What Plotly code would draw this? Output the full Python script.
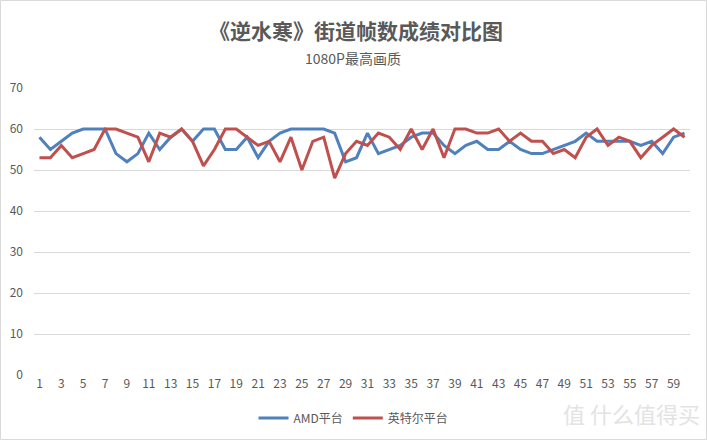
import plotly.graph_objects as go

x_vals = list(range(1, 61))
tick_labels = [str(i) for i in range(1, 61, 2)]
amd = [58, 55, 57, 59, 60, 60, 60, 54, 52, 54,
       59, 55, 58, 60, 57, 60, 60, 55, 55, 58,
       53, 57, 59, 60, 60, 60, 60, 59, 52, 53,
       59, 54, 55, 56, 58, 59, 59, 56, 54, 56,
       57, 55, 55, 57, 55, 54, 54, 55, 56, 57,
       59, 57, 57, 57, 57, 56, 57, 54, 58, 59]
intel = [53, 53, 56, 53, 54, 55, 60, 60, 59, 58,
         52, 59, 58, 60, 57, 51, 55, 60, 60, 58,
         56, 57, 52, 58, 50, 57, 58, 48, 54, 57,
         56, 59, 58, 55, 60, 55, 60, 53, 60, 60,
         59, 59, 60, 57, 59, 57, 57, 54, 55, 53,
         58, 60, 56, 58, 57, 53, 56, 58, 60, 58]

FONT = "Noto Sans CJK SC"
TXT = "#595959"

fig = go.Figure()
fig.add_trace(go.Scatter(x=x_vals, y=amd, mode="lines", name="AMD平台",
                         line=dict(color="#4F81BD", width=3)))
fig.add_trace(go.Scatter(x=x_vals, y=intel, mode="lines", name="英特尔平台",
                         line=dict(color="#C0504D", width=3)))

L, R, T, B = 34, 17, 88, 65
W, H = 707, 440
pw, ph = W - L - R, H - T - B

fig.update_layout(
    width=W, height=H,
    margin=dict(l=L, r=R, t=T, b=B, autoexpand=False),
    paper_bgcolor="white", plot_bgcolor="white",
    font=dict(family=FONT, color=TXT, size=12),
    showlegend=True,
    legend=dict(orientation="h", xref="container", yref="container",
                x=0.5, xanchor="center", y=(H - 418) / H, yanchor="middle",
                font=dict(size=12, color=TXT), itemwidth=30),
    xaxis=dict(range=[0.5, 60.5], tickmode="array",
               tickvals=list(range(1, 61, 2)), ticktext=tick_labels,
               showgrid=False, zeroline=False, showline=False, ticks="",
               tickfont=dict(size=12, color=TXT), automargin=False),
    yaxis=dict(range=[0, 70], dtick=10, showgrid=True, gridcolor="#D9D9D9",
               gridwidth=1, zeroline=False, showline=False, ticks="",
               tickfont=dict(size=12, color=TXT), ticklabelstandoff=10,
               automargin=False),
    annotations=[
        dict(text="<b>《逆水寒》街道帧数成绩对比图</b>", xref="paper", yref="paper",
             x=(356 - L) / pw, y=(H - B - 30) / ph, xanchor="center", yanchor="middle",
             showarrow=False, font=dict(size=21, color=TXT, family=FONT)),
        dict(text="1080P最高画质", xref="paper", yref="paper",
             x=(353 - L) / pw, y=(H - B - 58) / ph, xanchor="center", yanchor="middle",
             showarrow=False, font=dict(size=14, color=TXT, family=FONT)),
        dict(text="值 什么值得买", xref="paper", yref="paper",
             x=(702 - L) / pw, y=(H - B - 413) / ph, xanchor="right", yanchor="middle",
             showarrow=False, font=dict(size=22, color="#E3E3E3", family=FONT)),
    ],
    shapes=[
        dict(type="rect", xref="paper", yref="paper",
             x0=(0.5 - L) / pw, x1=(W - 0.5 - L) / pw,
             y0=(H - B - (H - 0.5)) / ph, y1=(H - B - 0.5) / ph,
             line=dict(color="#D9D9D9", width=1), fillcolor="rgba(0,0,0,0)", layer="below"),
    ],
)

fig.write_html("out.html", config={"displayModeBar": False},
               post_script="document.body.style.margin='0';document.body.style.overflow='hidden';")
